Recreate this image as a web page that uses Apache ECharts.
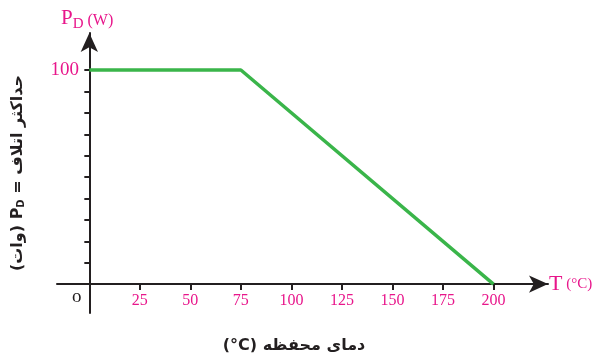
<!DOCTYPE html>
<html>
<head>
<meta charset="utf-8">
<script src="https://cdn.jsdelivr.net/npm/echarts@6/dist/echarts.min.js"></script>
<style>
  html, body { margin: 0; padding: 0; background: #fff; }
  #chart { width: 598px; height: 358px; }
</style>
</head>
<body>
<div id="chart"></div>
<script>
const temps = [0, 75, 200]
const power = [100, 100, 0]
const xTicks = [0, 25, 50, 75, 100, 125, 150, 175, 200]
const xLabels = [25, 50, 75, 100, 125, 150, 175, 200]
const yTicks = [0, 10, 20, 30, 40, 50, 60, 70, 80, 90, 100]
const yLabels = [100]

const pink = '#e8168b'
const ink = '#231f20'
const serif = '"Liberation Serif", "Times New Roman", serif'

const chart = echarts.init(document.getElementById('chart'))
chart.setOption({
  animation: false,
  grid: { left: 57, right: 50, top: 33, bottom: 45 },
  xAxis: {
    type: 'value',
    min: -16,
    max: 227,
    splitLine: { show: false },
    axisLine: {
      onZero: true,
      lineStyle: { color: ink, width: 2 },
      symbol: ['none', 'arrow'],
      symbolSize: [13, 19]
    },
    axisTick: { show: true, length: 6, customValues: xTicks, lineStyle: { color: ink, width: 2 } },
    axisLabel: {
      customValues: xLabels,
      color: pink,
      fontFamily: serif,
      fontSize: 16,
      margin: -20
    }
  },
  yAxis: {
    type: 'value',
    min: -13.5,
    max: 117.3,
    splitLine: { show: false },
    axisLine: {
      onZero: true,
      lineStyle: { color: ink, width: 2 },
      symbol: ['none', 'arrow'],
      symbolSize: [13, 19]
    },
    axisTick: { show: true, length: 5, customValues: yTicks, lineStyle: { color: ink, width: 2 } },
    axisLabel: {
      customValues: yLabels,
      color: pink,
      fontFamily: serif,
      fontSize: 19,
      margin: -22
    }
  },
  series: [{
    type: 'line',
    data: temps.map((t, i) => [t, power[i]]),
    showSymbol: false,
    lineStyle: { color: '#3ab54a', width: 3.5 }
  }],
  graphic: [
    {
      type: 'text', left: 61, top: 8,
      style: {
        text: '{p|P}{d|D}{w| (W)}',
        rich: {
          p: { fontFamily: serif, fontSize: 21, fill: pink, verticalAlign: 'bottom' },
          d: { fontFamily: serif, fontSize: 15, fill: pink, verticalAlign: 'bottom', padding: [0, 0, -3, 0] },
          w: { fontFamily: serif, fontSize: 16, fill: pink, verticalAlign: 'bottom' }
        }
      }
    },
    {
      type: 'text', left: 549, top: 273,
      style: {
        text: '{t|T}{c| (°C)}',
        rich: {
          t: { fontFamily: serif, fontSize: 22, fill: pink },
          c: { fontFamily: serif, fontSize: 15, fill: pink }
        }
      }
    },
    {
      type: 'text', left: 72, top: 288,
      style: { text: 'o', fontFamily: serif, fontSize: 19, fill: ink }
    },
    {
      type: 'text', x: 294, y: 346,
      style: {
        text: '(°C) دمای محفظه',
        fontFamily: '"DejaVu Sans", sans-serif',
        fontWeight: 'bold',
        fontSize: 16,
        fill: ink,
        align: 'center',
        verticalAlign: 'middle'
      }
    },
    {
      type: 'text', x: 18, y: 173, rotation: Math.PI / 2,
      style: {
        text: '{a|(وات) P}{s|D}{a| = حداکثر اتلاف}',
        align: 'center',
        verticalAlign: 'middle',
        rich: {
          a: { fontFamily: '"DejaVu Sans", sans-serif', fontWeight: 'bold', fontSize: 16, fill: ink },
          s: { fontFamily: '"DejaVu Sans", sans-serif', fontWeight: 'bold', fontSize: 10, fill: ink, padding: [6, 0, 0, 0] }
        }
      }
    }
  ]
})
</script>
</body>
</html>
